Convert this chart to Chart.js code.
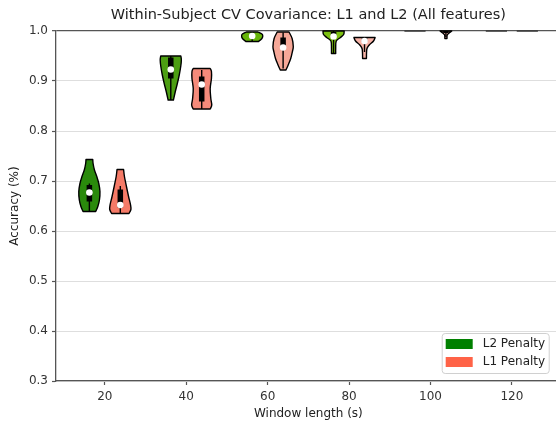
<!DOCTYPE html>
<html>
<head>
<meta charset="utf-8">
<script src="https://cdn.jsdelivr.net/npm/chart.js@4.4.1/dist/chart.umd.min.js"></script>
<style>
  html, body { margin: 0; padding: 0; background: #fff; overflow: hidden; }
  #wrap { width: 556px; height: 422px; overflow: hidden; position: relative; }
  canvas { display: block; }
</style>
</head>
<body>
<div id="wrap"><canvas id="chart" width="564" height="422"></canvas></div>
<script>
// Window lengths (s) on the x axis
const windows = [20, 40, 60, 80, 100, 120];
const yTicks = [0.3, 0.4, 0.5, 0.6, 0.7, 0.8, 0.9, 1.0];

// L2 penalty: accuracy levels of each violin outline (top to bottom) and relative density
const l2Levels = [
  [0.743, 0.735, 0.722, 0.709, 0.695, 0.679, 0.662, 0.649, 0.639],
  [0.950, 0.942, 0.929, 0.912, 0.895, 0.879, 0.862],
  [0.998, 0.994, 0.990, 0.985, 0.979],
  [1.000, 0.993, 0.987, 0.980, 0.965, 0.955],
  [1.000],
  [1.000]
];
const l2Density = [
  [0.32, 0.35, 0.48, 0.70, 0.89, 1.00, 0.95, 0.80, 0.60],
  [0.95, 1.00, 0.94, 0.80, 0.62, 0.43, 0.25],
  [0.55, 0.92, 1.00, 0.92, 0.60],
  [1.00, 0.95, 0.65, 0.25, 0.20, 0.20],
  [1.00],
  [1.00]
];
const l2Median = [0.677, 0.923, 0.990, 0.989, null, null];
const l2Q1 = [0.659, 0.905, 0.987, 0.987, 1.0, 1.0];
const l2Q3 = [0.692, 0.947, 0.994, 0.998, 1.0, 1.0];
const l2Low = [0.639, 0.862, 0.979, 0.955, 1.0, 1.0];
const l2High = [0.695, 0.950, 0.998, 1.000, 1.0, 1.0];

// L1 penalty
const l1Levels = [
  [0.723, 0.709, 0.689, 0.669, 0.652, 0.643, 0.635],
  [0.925, 0.919, 0.905, 0.885, 0.865, 0.852, 0.844],
  [0.998, 0.985, 0.969, 0.959, 0.945, 0.932, 0.922],
  [0.987, 0.980, 0.972, 0.964, 0.945],
  [1.000, 0.996, 0.992, 0.985],
  [1.000]
];
const l1Density = [
  [0.31, 0.39, 0.58, 0.78, 0.97, 1.00, 0.82],
  [0.80, 0.92, 0.92, 0.80, 0.86, 0.95, 0.80],
  [0.56, 0.85, 0.96, 0.88, 0.72, 0.48, 0.27],
  [1.00, 0.85, 0.45, 0.22, 0.18],
  [0.55, 0.30, 0.12, 0.10],
  [1.00]
];
const l1Median = [0.652, 0.893, 0.967, 0.980, null, null];
const l1Q1 = [0.647, 0.859, 0.968, 0.978, 0.996, 1.0];
const l1Q3 = [0.683, 0.909, 0.987, 0.987, 1.000, 1.0];
const l1Low = [0.635, 0.844, 0.925, 0.958, 0.988, 1.0];
const l1High = [0.690, 0.922, 0.997, 0.987, 1.000, 1.0];

const seriesLabels = ['L2 Penalty', 'L1 Penalty'];

// Styling
const FONT = 'DejaVu Sans';
const legendColors = ['#008000', '#ff6347'];
const l2Fills = ['#2a8a0c', '#4c9e12', '#66b508', '#7cc012', '#7cc012', '#7cc012'];
const l1Fills = ['#f57a67', '#f58a7a', '#f6a898', '#f8b4a8', '#f8b4a8', '#f8b4a8'];
const DODGE = 3.8;      // x offset of each series from its window length
const HALF = 2.6;       // half of the widest violin, in x units
const BOX_W = 5.5;      // inner box width in px
const AXIS = '#555555';

const series = [
  { offset: -DODGE, levels: l2Levels, density: l2Density, median: l2Median, q1: l2Q1, q3: l2Q3, low: l2Low, high: l2High, fills: l2Fills },
  { offset: DODGE, levels: l1Levels, density: l1Density, median: l1Median, q1: l1Q1, q3: l1Q3, low: l1Low, high: l1High, fills: l1Fills }
];

function smoothSide(ctx, pts) {
  for (let i = 0; i < pts.length - 1; i++) {
    const p0 = pts[i - 1] || pts[i], p1 = pts[i], p2 = pts[i + 1], p3 = pts[i + 2] || p2;
    ctx.bezierCurveTo(
      p1[0] + (p2[0] - p0[0]) / 6, p1[1] + (p2[1] - p0[1]) / 6,
      p2[0] - (p3[0] - p1[0]) / 6, p2[1] - (p3[1] - p1[1]) / 6,
      p2[0], p2[1]);
  }
}

const violinPlugin = {
  id: 'violins',
  beforeDatasetsDraw(chart) {
    const { ctx, chartArea: a, scales: { x, y } } = chart;
    ctx.save();
    ctx.beginPath();
    ctx.rect(a.left, a.top - 1, a.right - a.left, a.bottom - a.top + 1);
    ctx.clip();
    series.forEach(s => {
      windows.forEach((w, i) => {
        const c = w + s.offset;
        const px = x.getPixelForValue(c);
        const lv = s.levels[i], dn = s.density[i];
        if (lv.length === 1) {
          // constant scores: a single horizontal stroke
          const py = y.getPixelForValue(lv[0]);
          ctx.beginPath();
          ctx.moveTo(x.getPixelForValue(c - HALF * dn[0]), py);
          ctx.lineTo(x.getPixelForValue(c + HALF * dn[0]), py);
          ctx.strokeStyle = '#3a3a3a';
          ctx.lineWidth = 1.4;
          ctx.stroke();
          return;
        }
        const right = lv.map((v, k) => [x.getPixelForValue(c + dn[k] * HALF), y.getPixelForValue(v)]);
        const left = lv.map((v, k) => [x.getPixelForValue(c - dn[k] * HALF), y.getPixelForValue(v)]).reverse();
        ctx.beginPath();
        ctx.moveTo(left[left.length - 1][0], left[left.length - 1][1]);
        ctx.lineTo(right[0][0], right[0][1]);
        smoothSide(ctx, right);
        ctx.lineTo(left[0][0], left[0][1]);
        smoothSide(ctx, left);
        ctx.closePath();
        ctx.fillStyle = s.fills[i];
        ctx.fill();
        ctx.strokeStyle = '#000';
        ctx.lineWidth = 1.4;
        ctx.lineJoin = 'round';
        ctx.stroke();
        // whisker
        ctx.beginPath();
        ctx.moveTo(px, y.getPixelForValue(s.low[i]));
        ctx.lineTo(px, y.getPixelForValue(s.high[i]));
        ctx.lineWidth = 1.4;
        ctx.stroke();
        // inner box
        const yt = y.getPixelForValue(s.q3[i]), yb = y.getPixelForValue(s.q1[i]);
        ctx.fillStyle = '#000';
        ctx.fillRect(px - BOX_W / 2, yt, BOX_W, Math.max(yb - yt, 1));
      });
    });
    ctx.restore();
  }
};

const legendPlugin = {
  id: 'boxLegend',
  afterDraw(chart) {
    const { ctx, chartArea: a } = chart;
    const w = 107, h = 40;
    const bx = a.right - 12 - w, by = a.bottom - 8 - h;
    ctx.save();
    ctx.beginPath();
    ctx.roundRect(bx + 0.5, by + 0.5, w, h, 3);
    ctx.fillStyle = 'rgba(255,255,255,0.85)';
    ctx.fill();
    ctx.strokeStyle = '#d0d0d0';
    ctx.lineWidth = 1;
    ctx.stroke();
    ctx.font = '12px "' + FONT + '"';
    ctx.textBaseline = 'middle';
    seriesLabels.forEach((lab, k) => {
      const cy = by + 11 + k * 18;
      ctx.fillStyle = legendColors[k];
      ctx.fillRect(bx + 4, cy - 5, 27, 10);
      ctx.fillStyle = '#222';
      ctx.fillText(lab, bx + 41, cy);
    });
    ctx.restore();
  }
};

const datasets = series.map((s, si) => ({
  label: seriesLabels[si],
  data: windows.map((w, i) => s.median[i] == null ? null : { x: w + s.offset, y: s.median[i] }).filter(p => p),
  pointRadius: 3.3,
  pointHoverRadius: 3.3,
  pointBackgroundColor: '#ffffff',
  pointBorderWidth: 0,
  showLine: false
}));

new Chart(document.getElementById('chart'), {
  type: 'scatter',
  data: { datasets },
  plugins: [violinPlugin, legendPlugin],
  options: {
    responsive: false,
    animation: false,
    devicePixelRatio: 1,
    layout: { padding: { top: 0, right: 2, left: 0, bottom: 0 } },
    plugins: {
      legend: { display: false },
      tooltip: { enabled: false },
      title: {
        display: true,
        fullSize: false,
        text: 'Within-Subject CV Covariance: L1 and L2 (All features)',
        color: '#222',
        font: { family: FONT, size: 14.5, weight: 'normal' },
        padding: { top: 7, bottom: 6.6 }
      }
    },
    scales: {
      x: {
        type: 'linear',
        min: 8,
        max: 132,
        afterBuildTicks: sc => { sc.ticks = windows.map(v => ({ value: v })); },
        afterFit: sc => { sc.height = 41; },
        ticks: { color: '#333', font: { family: FONT, size: 12 }, padding: 5, maxRotation: 0 },
        grid: { drawOnChartArea: false, drawTicks: true, tickLength: 4, tickColor: AXIS, tickWidth: 1.2 },
        border: { color: AXIS, width: 1.3 },
        title: { display: true, text: 'Window length (s)', color: '#222', font: { family: FONT, size: 12 }, padding: { top: 2, bottom: 0.5 } }
      },
      y: {
        min: 0.3,
        max: 1.0,
        afterBuildTicks: sc => { sc.ticks = yTicks.map(v => ({ value: v })); },
        afterFit: sc => { sc.width = 56; },
        ticks: { color: '#333', font: { family: FONT, size: 12 }, padding: 4, callback: v => Number(v).toFixed(1) },
        grid: {
          color: c => (c.tick && Math.abs(c.tick.value - 1) < 1e-9) ? AXIS : '#dedede',
          lineWidth: c => (c.tick && Math.abs(c.tick.value - 1) < 1e-9) ? 1.3 : 1,
          drawTicks: true, tickLength: 4, tickColor: AXIS, tickWidth: 1.2
        },
        border: { color: AXIS, width: 1.3 },
        title: { display: true, text: 'Accuracy (%)', color: '#222', font: { family: FONT, size: 12 }, padding: { top: 8, bottom: 0 } }
      }
    }
  }
});
</script>
</body>
</html>
